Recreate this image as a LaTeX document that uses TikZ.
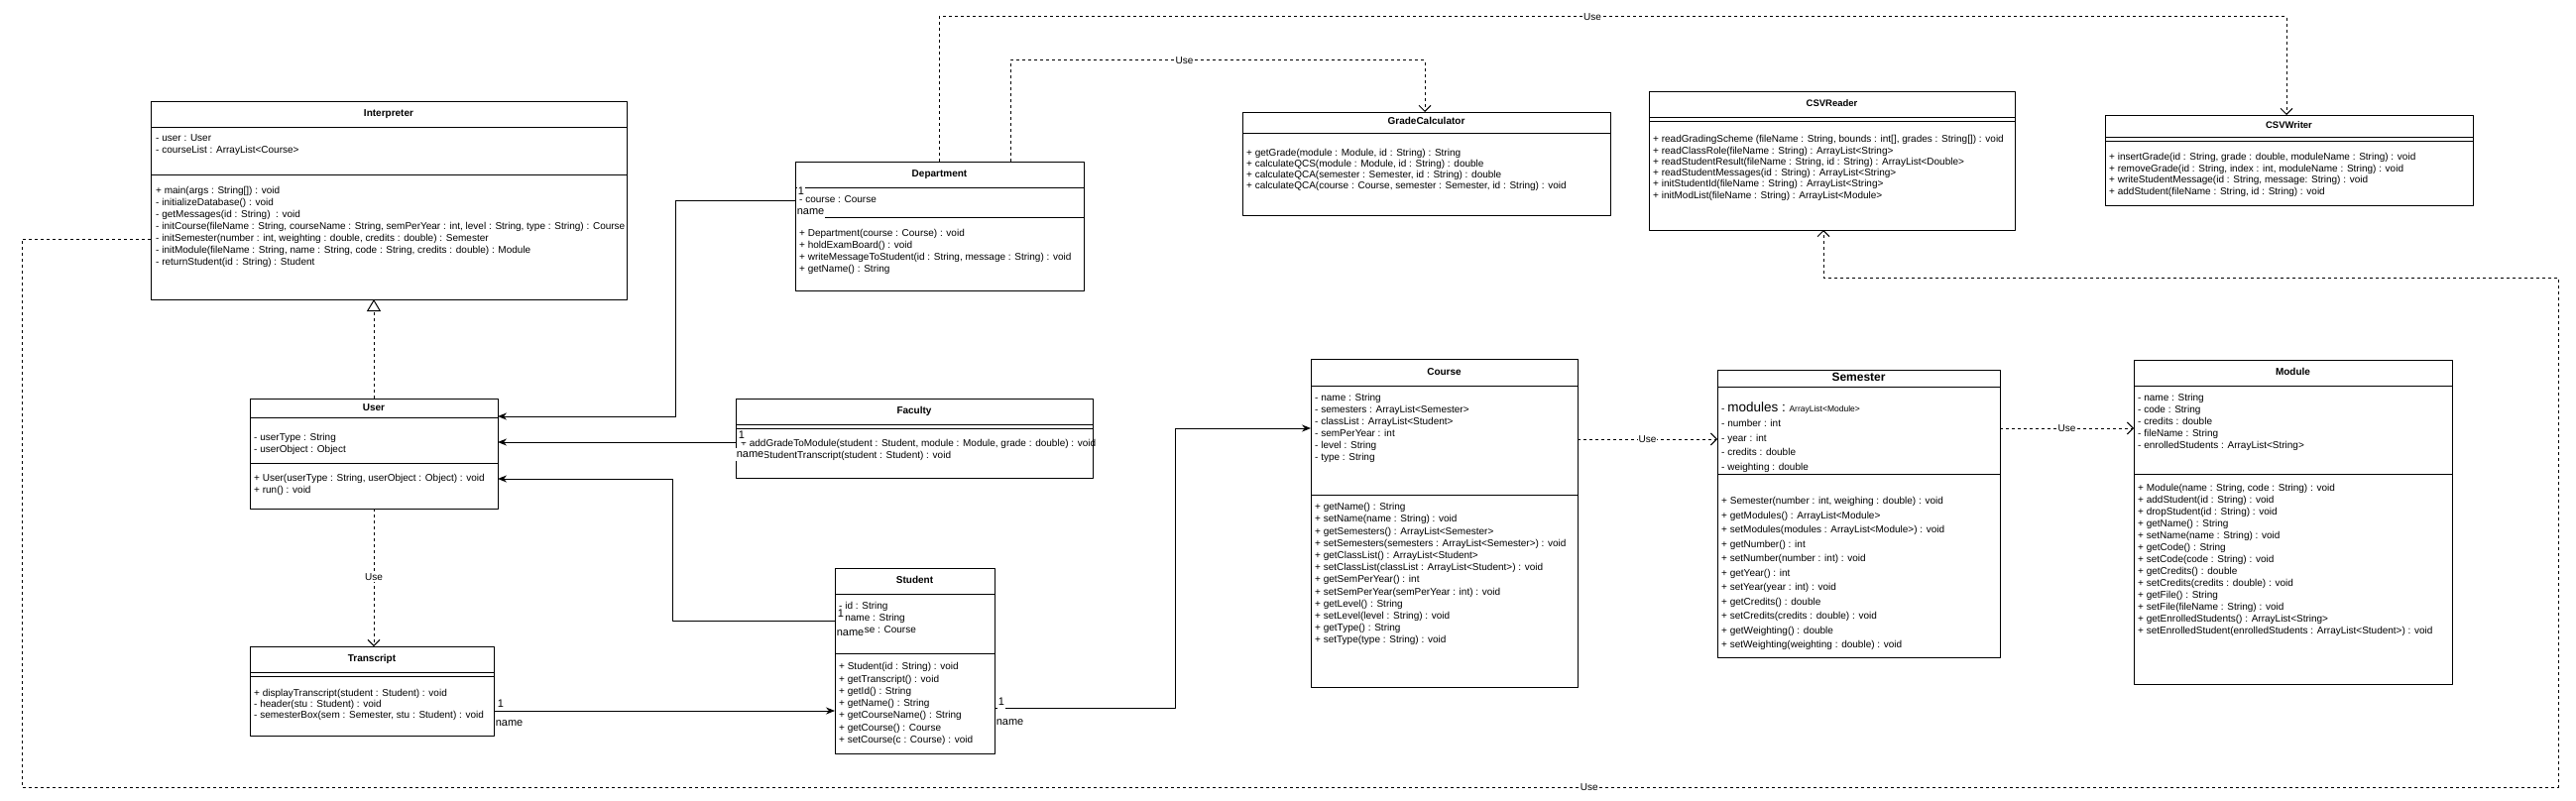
\documentclass[tikz,border=0pt]{standalone}
\usepackage{fontspec}
\setmainfont{Liberation Sans}
\usetikzlibrary{arrows.meta}

\begin{document}
\begin{tikzpicture}[x=1pt,y=-1pt,line join=round,
  cls/.style={draw,line width=1pt,anchor=north west,inner sep=0,outer sep=0},
  ttl/.style={font=\fontsize{10}{12}\selectfont\bfseries,inner sep=0,text height=7.5pt,text depth=2pt},
  mem/.style={font=\fontsize{10}{12}\selectfont,anchor=west,inner sep=0,text height=7.5pt,text depth=2pt},
  assoc/.style={line width=1pt,-{Stealth[length=9pt,width=7pt]}},
  dep/.style={line width=1pt,dash pattern=on 3pt off 3pt,-{Straight Barb[length=6pt,width=12pt]}},
  inh/.style={line width=1pt,dash pattern=on 3pt off 3pt,-{Triangle[open,length=12pt,width=14pt]}},
  mult/.style={font=\fontsize{11}{13}\selectfont,anchor=base west,fill=white,inner sep=0.6pt,text height=8.5pt,text depth=3pt},
  uselbl/.style={font=\fontsize{10}{12}\selectfont,fill=white,inner sep=1pt}]
\fill[white] (0,0) rectangle (2598,808);
\useasboundingbox (0,0) rectangle (2598,808);

% class boxes
\node[cls,minimum width=480,minimum height=200] (interp) at (152,102) {};
\node[cls,minimum width=291,minimum height=130] (dept) at (802,163) {};
\node[cls,minimum width=371,minimum height=104] (grade) at (1253,113) {};
\node[cls,minimum width=369,minimum height=140] (reader) at (1663,92) {};
\node[cls,minimum width=371,minimum height=91] (writer) at (2123,116) {};
\node[cls,minimum width=250,minimum height=111] (user) at (252,402) {};
\node[cls,minimum width=360,minimum height=80] (fac) at (742,402) {};
\node[cls,minimum width=246,minimum height=90] (tran) at (252,652) {};
\node[cls,minimum width=161,minimum height=187] (stud) at (842,573) {};
\node[cls,minimum width=269,minimum height=331] (course) at (1322,362) {};
\node[cls,minimum width=285,minimum height=290] (sem) at (1732,373) {};
\node[cls,minimum width=321,minimum height=327] (mod) at (2152,363) {};

% compartment lines
\foreach \n/\y in {interp/128,interp/176,dept/189,dept/219,grade/134,reader/118,reader/122,
  writer/138,writer/142,user/421,user/467,fac/428,fac/432,tran/678,tran/682,stud/599,stud/659,
  course/389,course/499,sem/390,sem/478,mod/389,mod/478}
  \draw[line width=1pt] (\n.west |- 0,\y) -- (\n.east |- 0,\y);

% titles
\node[ttl] (interp-t) at (392,115) {Interpreter};
\node[ttl] (dept-t) at (947.5,176) {Department};
\node[ttl] (grade-t) at (1438.5,123) {GradeCalculator};
\node[ttl,font=\fontsize{9.5}{11}\selectfont\bfseries] (reader-t) at (1847.5,105) {CSVReader};
\node[ttl,font=\fontsize{9.5}{11}\selectfont\bfseries] (writer-t) at (2308.5,127) {CSVWriter};
\node[ttl] (user-t) at (377,412) {User};
\node[ttl] (fac-t) at (922,415) {Faculty};
\node[ttl] (tran-t) at (375,665) {Transcript};
\node[ttl] (stud-t) at (922.5,586) {Student};
\node[ttl] (course-t) at (1456.5,375.5) {Course};
\node[ttl,font=\fontsize{12}{14}\selectfont\bfseries] (sem-t) at (1874.5,381.5) {Semester};
\node[ttl] (mod-t) at (2312.5,376) {Module};

% Interpreter
\foreach \m [count=\i from 0] in {{- user : User},{- courseList : ArrayList<Course>}}
  \node[mem] (interp-a\i) at (157,140+12*\i) {\m};
\foreach \m [count=\i from 0] in {{+ main(args : String[]) : void},{- initializeDatabase() : void},
  {- getMessages(id : String)~ : void},
  {- initCourse(fileName : String, courseName : String, semPerYear : int, level : String, type : String) : Course},
  {- initSemester(number : int, weighting : double, credits : double) : Semester},
  {- initModule(fileName : String, name : String, code : String, credits : double) : Module},
  {- returnStudent(id : String) : Student}}
  \node[mem] (interp-m\i) at (157,193+12*\i) {\m};

% Department
\node[mem] (dept-a0) at (806,202) {- course : Course};
\foreach \m [count=\i from 0] in {{+ Department(course : Course) : void},{+ holdExamBoard() : void},
  {+ writeMessageToStudent(id : String, message : String) : void},{+ getName() : String}}
  \node[mem] (dept-m\i) at (806,236+12*\i) {\m};

% GradeCalculator
\foreach \m [count=\i from 0] in {{+ getGrade(module : Module, id : String) : String},
  {+ calculateQCS(module : Module, id : String) : double},
  {+ calculateQCA(semester : Semester, id : String) : double},
  {+ calculateQCA(course : Course, semester : Semester, id : String) : void}}
  \node[mem] (grade-m\i) at (1257,155+11*\i) {\m};

% CSVReader
\foreach \m [count=\i from 0] in {{+ readGradingScheme (fileName : String, bounds : int[], grades : String[]) : void},
  {+ readClassRole(fileName : String) : ArrayList<String>},
  {+ readStudentResult(fileName : String, id : String) : ArrayList<Double>},
  {+ readStudentMessages(id : String) : ArrayList<String>},
  {+ initStudentId(fileName : String) : ArrayList<String>},
  {+ initModList(fileName : String) : ArrayList<Module>}}
  \node[mem] (reader-m\i) at (1667,141+11.3*\i) {\m};

% CSVWriter
\foreach \m [count=\i from 0] in {{+ insertGrade(id : String, grade : double, moduleName : String) : void},
  {+ removeGrade(id : String, index : int, moduleName : String) : void},
  {+ writeStudentMessage(id : String, message: String) : void},
  {+ addStudent(fileName : String, id : String) : void}}
  \node[mem] (writer-m\i) at (2127,159+11.5*\i) {\m};

% User
\foreach \m [count=\i from 0] in {{- userType : String},{- userObject : Object}}
  \node[mem] (user-a\i) at (256,442+12*\i) {\m};
\foreach \m [count=\i from 0] in {{+ User(userType : String, userObject : Object) : void},{+ run() : void}}
  \node[mem] (user-m\i) at (256,483+12*\i) {\m};

% Faculty
\foreach \m [count=\i from 0] in {{+ addGradeToModule(student : Student, module : Module, grade : double) : void},
  {+ getStudentTranscript(student : Student) : void}}
  \node[mem] (fac-m\i) at (747,448+12*\i) {\m};

% Transcript
\foreach \m [count=\i from 0] in {{+ displayTranscript(student : Student) : void},{- header(stu : Student) : void},
  {- semesterBox(sem : Semester, stu : Student) : void}}
  \node[mem] (tran-m\i) at (256,700+11*\i) {\m};

% Student
\foreach \m [count=\i from 0] in {{- id : String},{- name : String},{- course : Course}}
  \node[mem] (stud-a\i) at (846,612+12*\i) {\m};
\foreach \m [count=\i from 0] in {{+ Student(id : String) : void},{+ getTranscript() : void},{+ getId() : String},
  {+ getName() : String},{+ getCourseName() : String},{+ getCourse() : Course},{+ setCourse(c : Course) : void}}
  \node[mem] (stud-m\i) at (846,673+12.3*\i) {\m};

% Course
\foreach \m [count=\i from 0] in {{- name : String},{- semesters : ArrayList<Semester>},{- classList : ArrayList<Student>},
  {- semPerYear : int},{- level : String},{- type : String}}
  \node[mem] (course-a\i) at (1326,402+12*\i) {\m};
\foreach \m [count=\i from 0] in {{+ getName() : String},{+ setName(name : String) : void},
  {+ getSemesters() : ArrayList<Semester>},{+ setSemesters(semesters : ArrayList<Semester>) : void},
  {+ getClassList() : ArrayList<Student>},{+ setClassList(classList : ArrayList<Student>) : void},
  {+ getSemPerYear() : int},{+ setSemPerYear(semPerYear : int) : void},{+ getLevel() : String},
  {+ setLevel(level : String) : void},{+ getType() : String},{+ setType(type : String) : void}}
  \node[mem] (course-m\i) at (1326,512+12.2*\i) {\m};

% Semester
\node[mem] (sem-a0) at (1736,413) {- {\fontsize{13.5}{15}\selectfont modules :} {\fontsize{8.5}{10}\selectfont ArrayList<Module>}};
\foreach \m [count=\i from 1] in {{- number : int},{- year : int},{- credits : double},{- weighting : double}}
  \node[mem] (sem-a\i) at (1736,413+14.7*\i) {\m};
\foreach \m [count=\i from 0] in {{+ Semester(number : int, weighing : double) : void},
  {+ getModules() : ArrayList<Module>},{+ setModules(modules : ArrayList<Module>) : void},
  {+ getNumber() : int},{+ setNumber(number : int) : void},{+ getYear() : int},{+ setYear(year : int) : void},
  {+ getCredits() : double},{+ setCredits(credits : double) : void},{+ getWeighting() : double},
  {+ setWeighting(weighting : double) : void}}
  \node[mem] (sem-m\i) at (1736,506+14.5*\i) {\m};

% Module
\foreach \m [count=\i from 0] in {{- name : String},{- code : String},{- credits : double},{- fileName : String},
  {- enrolledStudents : ArrayList<String>}}
  \node[mem] (mod-a\i) at (2156,402+12*\i) {\m};
\foreach \m [count=\i from 0] in {{+ Module(name : String, code : String) : void},{+ addStudent(id : String) : void},
  {+ dropStudent(id : String) : void},{+ getName() : String},{+ setName(name : String) : void},
  {+ getCode() : String},{+ setCode(code : String) : void},{+ getCredits() : double},
  {+ setCredits(credits : double) : void},{+ getFile() : String},{+ setFile(fileName : String) : void},
  {+ getEnrolledStudents() : ArrayList<String>},{+ setEnrolledStudent(enrolledStudents : ArrayList<Student>) : void}}
  \node[mem] (mod-m\i) at (2156,493+12*\i) {\m};

% realization
\draw[inh] (user.north) -- (user.north |- interp.south);

% associations
\draw[assoc] (dept.west |- 0,202) -- (681,202) -- (681,420) -- (user.east |- 0,420);
\draw[assoc] (fac.west |- 0,446) -- (user.east |- 0,446);
\draw[assoc] (stud.west |- 0,626) -- (678,626) -- (678,483) -- (user.east |- 0,483);
\draw[assoc] (tran.east |- 0,717) -- (stud.west |- 0,717);
\draw[assoc] (stud.east |- 0,714) -- (1185,714) -- (1185,432) -- (course.west |- 0,432);

% multiplicities
\node[mult] (dept-one) at (804,196) {1};
\node[mult] (dept-name) at (803,216) {name};
\node[mult] (fac-one) at (744,442) {1};
\node[mult] (fac-name) at (742,461) {name};
\node[mult] (stud-one) at (844,622) {1};
\node[mult] (stud-name) at (843,641) {name};
\node[mult] (tran-one) at (501,713) {1};
\node[mult] (tran-name) at (499,732) {name};
\node[mult] (stud-one2) at (1006,711) {1};
\node[mult] (stud-name2) at (1004,731) {name};

% dependencies
\draw[dep] (user.south) -- node[uselbl] (use1) {Use} (user.south |- tran.north);
\draw[dep] (course.east |- 0,443) -- node[uselbl] (use2) {Use} (sem.west |- 0,443);
\draw[dep] (sem.east |- 0,432) -- node[uselbl] (use3) {Use} (mod.west |- 0,432);
\draw[dep] (dept.north -| 1019,0) -- (1019,61) -- node[uselbl,pos=0.42] (use4) {Use} (1437,61) -- (grade.north -| 1437,0);
\draw[dep] (dept.north -| 947,0) -- (947,17) -- node[uselbl,pos=0.485] (use5) {Use} (2306,17) -- (writer.north -| 2306,0);
\draw[dep] (interp.west |- 0,241) -- (22,241) -- (22,794) -- node[uselbl,pos=0.618] (use6) {Use} (2580,794)
  -- (2580,280) -- (1839,280) -- (reader.south -| 1839,0);
\end{tikzpicture}
\end{document}
